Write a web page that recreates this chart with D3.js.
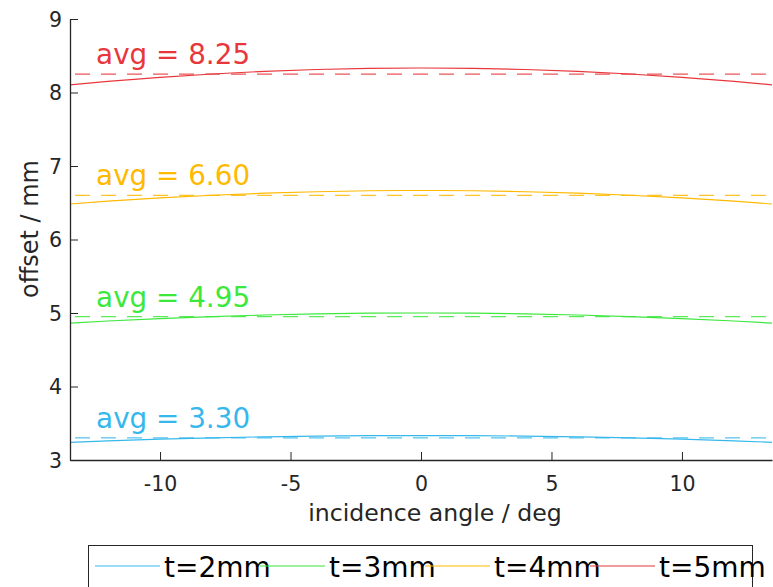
<!DOCTYPE html>
<html><head><meta charset="utf-8">
<script src="https://cdn.jsdelivr.net/npm/d3@7"></script>
<style>body{margin:0;background:#fff}svg{display:block;font-family:"DejaVu Sans",sans-serif}</style>
</head><body><svg id="c" width="773" height="587"></svg>
<script>
const angles = [-14,-12,-10,-8,-6,-4,-2,0,2,4,6,8,10,12,14];
const t2 = [3.234,3.260,3.283,3.301,3.315,3.325,3.331,3.333,3.331,3.325,3.315,3.301,3.283,3.260,3.234];
const t3 = [4.852,4.891,4.924,4.951,4.973,4.988,4.997,5.000,4.997,4.988,4.973,4.951,4.924,4.891,4.852];
const t4 = [6.469,6.521,6.565,6.602,6.630,6.650,6.663,6.667,6.663,6.650,6.630,6.602,6.565,6.521,6.469];
const t5 = [8.086,8.151,8.207,8.252,8.288,8.313,8.328,8.333,8.328,8.313,8.288,8.252,8.207,8.151,8.086];
const averages = [3.30,4.95,6.60,8.25];
const seriesNames = ["t=2mm","t=3mm","t=4mm","t=5mm"];
const colors = ["#36b8ec","#3de83d","#ffb900","#e8373c"];
const xTicks = [-10,-5,0,5,10];
const yTicks = [3,4,5,6,7,8,9];

const series = [t2,t3,t4,t5];
const svg = d3.select("#c");
const x = d3.scaleLinear().domain([-13.45,13.45]).range([70,772]);
const y = d3.scaleLinear().domain([3,9]).range([460,19]);

svg.append("defs").append("clipPath").attr("id","clip")
  .append("rect").attr("x",70).attr("y",19).attr("width",702).attr("height",441);

const plot = svg.append("g").attr("clip-path","url(#clip)");
const line = d3.line().x((d,i)=>x(angles[i])).y(d=>y(d)).curve(d3.curveNatural);

series.forEach((s,k)=>{
  plot.append("line").attr("x1",x.range()[0]).attr("x2",x.range()[1])
    .attr("y1",y(averages[k])).attr("y2",y(averages[k]))
    .attr("stroke",colors[k]).attr("stroke-width",1.2).attr("stroke-opacity",0.85)
    .attr("stroke-dasharray","15,11").attr("stroke-dashoffset",-5);
  plot.append("path").datum(s).attr("d",line).attr("fill","none")
    .attr("stroke",colors[k]).attr("stroke-width",1.2);
  svg.append("text").attr("x",x(-12.45)).attr("y",y(averages[k])-10)
    .attr("fill",colors[k]).attr("font-size",27.8).text("avg = "+averages[k].toFixed(2));
});

// axes
const xa = svg.append("g").attr("transform","translate(0,460)")
  .call(d3.axisBottom(x).tickValues(xTicks).tickSizeInner(-8).tickSizeOuter(0).tickPadding(16).tickFormat(d3.format("d")));
const ya = svg.append("g").attr("transform","translate(70,0)")
  .call(d3.axisLeft(y).tickValues(yTicks).tickSizeInner(-8).tickSizeOuter(0).tickPadding(8).tickFormat(d3.format("d")));
[xa,ya].forEach(a=>{
  a.select(".domain").attr("stroke","#262626").attr("stroke-width",1.3);
  a.selectAll(".tick line").attr("stroke","#262626").attr("stroke-width",1);
  a.selectAll(".tick text").attr("fill","#262626").attr("font-size",20.5).attr("font-family","DejaVu Sans");
});
xa.selectAll(".tick text").text(d=>d<0?"-"+Math.abs(d):d);
ya.selectAll(".tick text").attr("dy","0.36em");

svg.append("text").attr("x",435).attr("y",521).attr("text-anchor","middle")
  .attr("fill","#262626").attr("font-size",23.6).text("incidence angle / deg");
svg.append("text").attr("transform","translate(38,229) rotate(-90)").attr("text-anchor","middle")
  .attr("fill","#262626").attr("font-size",24).text("offset / mm");

// legend
const lg = svg.append("g");
lg.append("rect").attr("x",88.5).attr("y",545.5).attr("width",664).attr("height",60)
  .attr("fill","#fff").attr("stroke","#262626").attr("stroke-width",1);
seriesNames.forEach((n,k)=>{
  const x0 = 95 + k*165;
  lg.append("line").attr("x1",x0).attr("x2",x0+65).attr("y1",566).attr("y2",566)
    .attr("stroke",colors[k]).attr("stroke-width",1.2);
  lg.append("text").attr("x",x0+69).attr("y",577).attr("font-size",28).attr("fill","#000").text(n);
});
</script></body></html>
